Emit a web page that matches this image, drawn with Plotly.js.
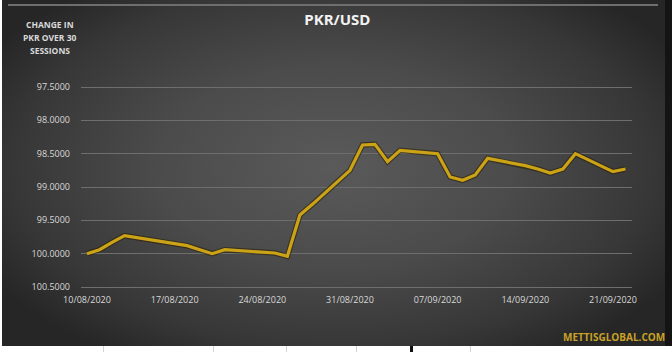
<!DOCTYPE html>
<html>
<head>
<meta charset="utf-8">
<script src="https://cdn.plot.ly/plotly-3.0.1.min.js"></script>
<style>
  html, body { margin:0; padding:0; background:#ffffff; width:672px; height:352px; overflow:hidden; }
  #panel { position:absolute; left:2px; top:0; width:664px; height:346px;
    background: radial-gradient(ellipse 60% 65% at 50% 48%, #5a5a5a 0%, #4b4b4b 45%, #373737 80%, #262626 100%); }
  #hl { position:absolute; left:8px; top:4px; width:650px; height:2px; background:#6e6e6e; }
  #redge { position:absolute; left:665px; top:0; width:7px; height:346px; background:#141414; }
  .vl { position:absolute; top:346px; width:1px; height:6px; background:#d4d4d4; }
  #chart { position:absolute; left:0; top:0; width:672px; height:352px; }
</style>
</head>
<body>
<div id="panel"></div>
<div id="hl"></div>
<div id="redge"></div>
<div class="vl" style="left:103px"></div>
<div class="vl" style="left:213px"></div>
<div class="vl" style="left:286px"></div>
<div class="vl" style="left:356px"></div>
<div class="vl" style="left:410px;width:3px;background:#111"></div>
<div class="vl" style="left:470px"></div>
<div id="chart"></div>
<script>
const dates = [
  '2020-08-10','2020-08-11','2020-08-12','2020-08-13',
  '2020-08-17','2020-08-18','2020-08-19','2020-08-20','2020-08-21',
  '2020-08-24','2020-08-25','2020-08-26','2020-08-27','2020-08-28',
  '2020-08-31','2020-09-01','2020-09-02','2020-09-03','2020-09-04',
  '2020-09-07','2020-09-08','2020-09-09','2020-09-10','2020-09-11',
  '2020-09-14','2020-09-15','2020-09-16','2020-09-17','2020-09-18',
  '2020-09-21','2020-09-22'
];
const pkrUsd = [
  100.00, 99.94, 99.83, 99.73,
  99.85, 99.88, 99.94, 100.00, 99.94,
  99.98, 99.99, 100.04, 99.42, 99.26,
  98.75, 98.37, 98.36, 98.62, 98.45,
  98.50, 98.85, 98.90, 98.82, 98.57,
  98.68, 98.73, 98.79, 98.73, 98.50,
  98.77, 98.73
];
const xTickVals = ['2020-08-10','2020-08-17','2020-08-24','2020-08-31','2020-09-07','2020-09-14','2020-09-21'];
const xTickText = ['10/08/2020','17/08/2020','24/08/2020','31/08/2020','07/09/2020','14/09/2020','21/09/2020'];
const yTickVals = [97.5, 98.0, 98.5, 99.0, 99.5, 100.0, 100.5];
const sideLabel = ['CHANGE IN', 'PKR OVER 30', 'SESSIONS'];

const font = "'Open Sans', 'DejaVu Sans', sans-serif";

const traces = [
  { x: dates, y: pkrUsd, type: 'scatter', mode: 'lines',
    line: { color: 'rgba(40,30,0,0.55)', width: 5.5 }, hoverinfo: 'skip', showlegend: false },
  { x: dates, y: pkrUsd, type: 'scatter', mode: 'lines', name: 'PKR/USD',
    line: { color: '#CCA316', width: 3.2 }, showlegend: false }
];

const sideAnnotations = sideLabel.map((t, i) => ({
  text: '<b>' + t + '</b>', xref: 'paper', yref: 'paper',
  x: -0.056, y: (289 - (25 + 13 * i)) / 204, xanchor: 'center', yanchor: 'middle',
  showarrow: false, font: { family: font, size: 8.5, color: '#d9d9d9' }
}));

const layout = {
  width: 672, height: 352,
  paper_bgcolor: 'rgba(0,0,0,0)', plot_bgcolor: 'rgba(0,0,0,0)',
  margin: { l: 81, r: 40, t: 85, b: 63 },
  title: { text: '<b>PKR/USD</b>', x: 0.502, xanchor: 'center', y: 0.945, yanchor: 'middle',
    font: { family: font, size: 15, color: '#f2f2f2' } },
  xaxis: {
    type: 'date',
    range: ['2020-08-09 12:30', '2020-09-22 12:30'],
    tickvals: xTickVals, ticktext: xTickText,
    showgrid: false, zeroline: false, showline: false, ticks: '',
    ticklabelstandoff: 4,
    tickfont: { family: font, size: 9, color: '#d9d9d9' }
  },
  yaxis: {
    range: [100.53, 97.47],
    tickvals: yTickVals, tickformat: '.4f',
    showgrid: true, gridcolor: '#6e6e6e', gridwidth: 1,
    zeroline: false, showline: false, ticks: '',
    ticklabelstandoff: 10,
    tickfont: { family: font, size: 9, color: '#d9d9d9' }
  },
  annotations: sideAnnotations.concat([
    { text: '<b>METTISGLOBAL.COM</b>', xref: 'paper', yref: 'paper',
      x: 1.063, y: -0.235, xanchor: 'right', yanchor: 'middle', showarrow: false,
      font: { family: font, size: 10, color: '#C9A227' } }
  ])
};

Plotly.newPlot('chart', traces, layout, { displayModeBar: false, staticPlot: true });
</script>
</body>
</html>
